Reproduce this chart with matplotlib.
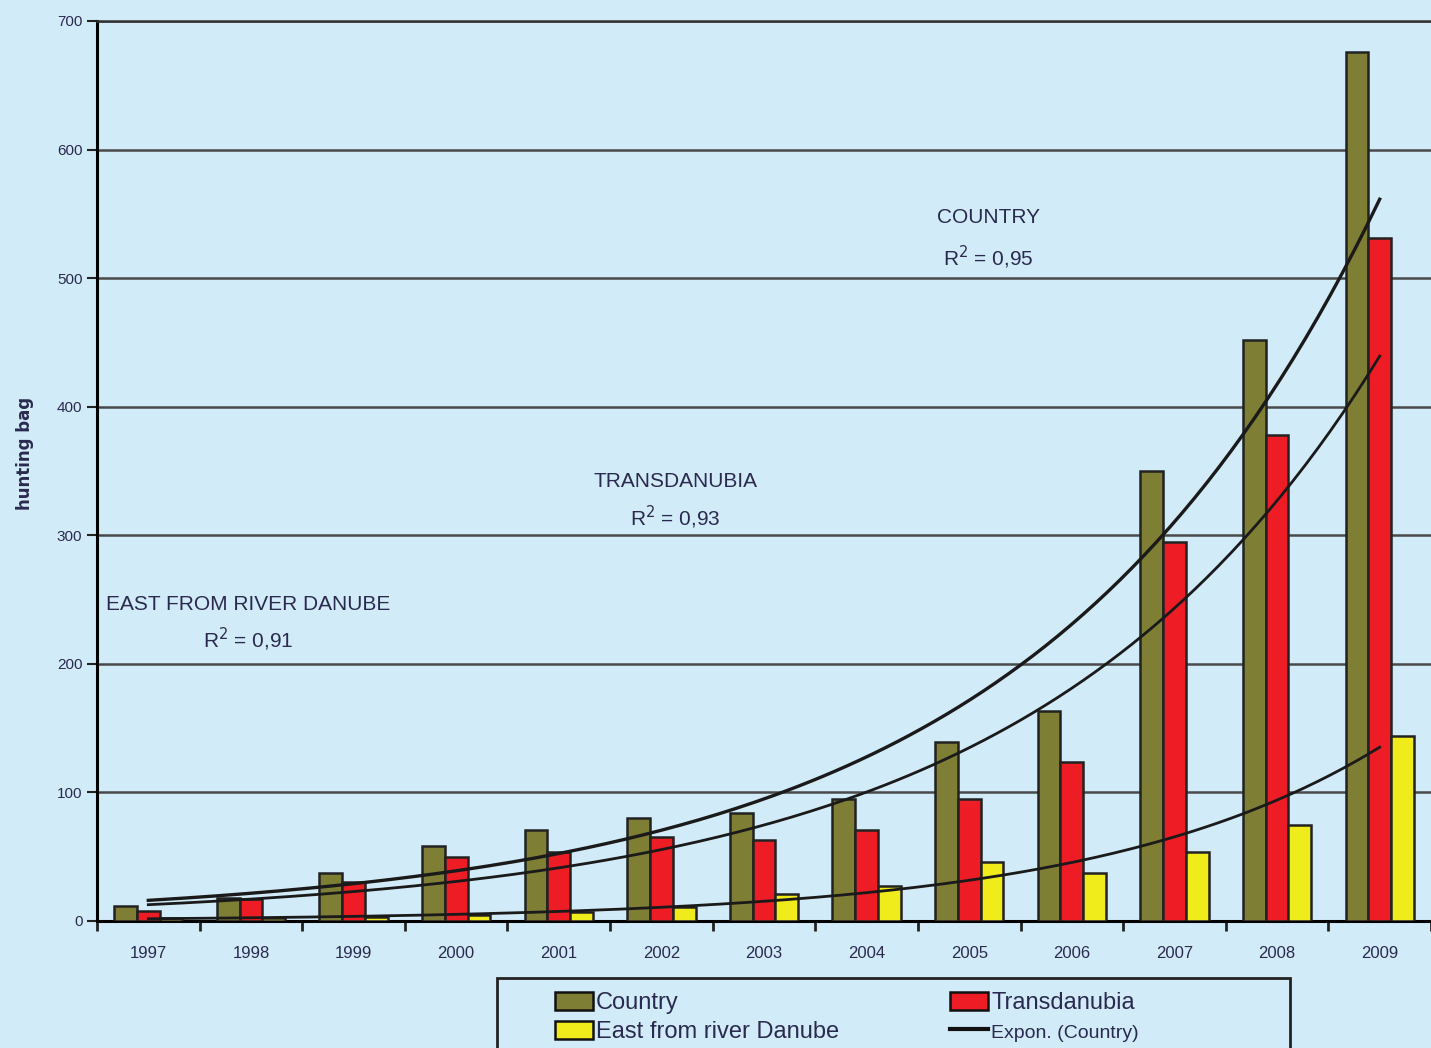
import numpy as np
import matplotlib.pyplot as plt
from matplotlib.patches import Rectangle, Patch
from matplotlib.lines import Line2D

years = ["1997", "1998", "1999", "2000", "2001", "2002", "2003",
         "2004", "2005", "2006", "2007", "2008", "2009"]
country = [12, 18, 37, 58, 71, 80, 84, 95, 139, 163, 350, 452, 676]
transdanubia = [8, 17, 30, 50, 54, 65, 63, 71, 95, 124, 295, 378, 531]
east = [2, 2, 3, 5, 7, 11, 21, 27, 46, 37, 54, 75, 144]

bg = "#D2EBF8"
txt = "#2A2A50"
narrow = ["Liberation Sans Narrow", "Liberation Sans", "DejaVu Sans"]

fig = plt.figure(figsize=(14.31, 10.48), dpi=100, facecolor=bg)
ax = fig.add_axes([97 / 1431, 1 - 921 / 1048, 1 - 97 / 1431, 900 / 1048])
ax.set_facecolor(bg)

x = np.arange(len(years))
w = 0.222
ax.bar(x - w, country, w, color="#7E7E35", edgecolor="#222222", linewidth=1.8, zorder=3)
ax.bar(x, transdanubia, w, color="#EE1C25", edgecolor="#222222", linewidth=1.8, zorder=3)
ax.bar(x + w, east, w, color="#F0EB1A", edgecolor="#222222", linewidth=1.8, zorder=3)

# exponential trend lines (least squares on log values, like Excel)
xs = np.linspace(0, 12, 200)
for vals, lw in [(country, 2.4), (transdanubia, 2.0), (east, 2.0)]:
    b, a = np.polyfit(x + 1, np.log(vals), 1)
    ax.plot(xs, np.exp(a + b * (xs + 1)), color="#1A1A1A", linewidth=lw, zorder=4)

ax.set_xlim(-0.5, 12.41)
ax.set_ylim(0, 700)
ax.set_yticks(range(0, 701, 100))
ax.yaxis.grid(True, color="#4A4A4A", linewidth=1.8, zorder=1)
ax.set_axisbelow(True)
ax.set_xticks(np.arange(-0.5, 12.6, 1))
ax.set_xticklabels([])
ax.set_xticks(x, minor=True)
ax.set_xticklabels(years, minor=True)
ax.tick_params(axis="x", which="minor", length=0, pad=18, labelsize=12, labelcolor=txt)
ax.tick_params(axis="x", which="major", length=7, width=2, color="#222222")
ax.tick_params(axis="y", length=7, width=1.5, color="#222222", labelsize=11, labelcolor=txt)
for lab in ax.get_xticklabels(minor=True) + ax.get_yticklabels():
    lab.set_family(narrow)
ax.spines["right"].set_visible(False)
ax.spines["top"].set_color("#333333")
ax.spines["top"].set_linewidth(1.8)
ax.spines["left"].set_linewidth(2.2)
ax.spines["bottom"].set_linewidth(2.2)

fig.text(25 / 1431, 1 - 453 / 1048, "hunting bag", rotation=90, fontsize=12,
         fontweight="bold", color=txt, ha="center", va="center")

ann = dict(fontsize=15, color=txt, ha="center", va="center", family=narrow)
ax.text(8.19, 547, "COUNTRY", **ann)
ax.text(8.19, 516, "R$^2$ = 0,95", **ann)
ax.text(5.14, 342, "TRANSDANUBIA", **ann)
ax.text(5.14, 314, "R$^2$ = 0,93", **ann)
ax.text(0.97, 246, "EAST FROM RIVER DANUBE", **ann)
ax.text(0.97, 219, "R$^2$ = 0,91", **ann)

# legend frame, cut by the bottom edge of the picture
fig.patches.append(Rectangle((497 / 1431, -0.05), 793 / 1431, 0.05 + 70 / 1048,
                             transform=fig.transFigure, facecolor=bg,
                             edgecolor="#222222", linewidth=2))

h_c = Patch(facecolor="#7E7E35", edgecolor="#111111", linewidth=1.8)
h_t = Patch(facecolor="#EE1C25", edgecolor="#111111", linewidth=1.8)
h_e = Patch(facecolor="#F0EB1A", edgecolor="#111111", linewidth=1.8)
h_l = Line2D([], [], color="#111111", linewidth=3)
leg_kw = dict(frameon=False, loc="upper left", handlelength=1.6,
              handleheight=0.8, handletextpad=0.15, labelspacing=0.28,
              borderpad=0, prop={"family": narrow, "size": 17})
l1 = fig.legend([h_c, h_e], ["Country", "East from river Danube"],
                bbox_to_anchor=(543 / 1431, 1 - 980 / 1048), **leg_kw)
for t in l1.get_texts():
    t.set_color(txt)
l2 = fig.legend([h_t, h_l], ["Transdanubia", "Expon. (Country)"],
                bbox_to_anchor=(938 / 1431, 1 - 980 / 1048), **leg_kw)
for t in l2.get_texts():
    t.set_color(txt)
l2.get_texts()[1].set_fontsize(14)

fig.savefig("out.png", dpi=100, facecolor=bg)
